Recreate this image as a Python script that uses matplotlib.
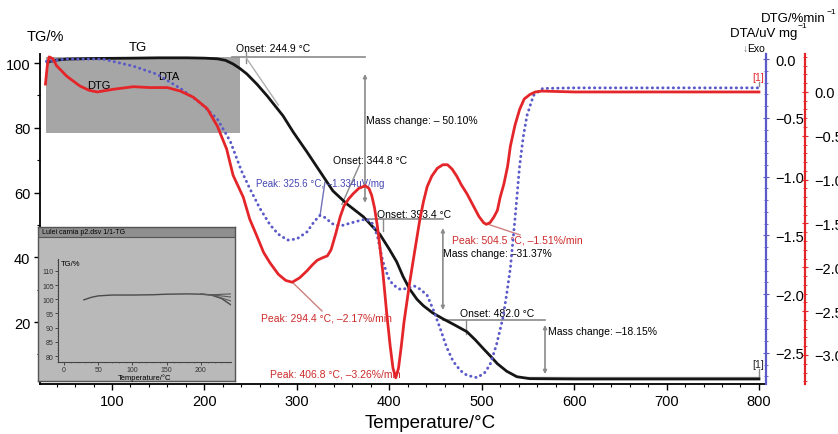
import numpy as np
import matplotlib
matplotlib.use('Agg')
import matplotlib.pyplot as plt
from matplotlib.patches import Rectangle
from matplotlib.ticker import MultipleLocator, FuncFormatter

plt.rcParams['font.family'] = ['Liberation Sans', 'DejaVu Sans']

# TG curve (temperature °C, mass %)
tg_t = [30, 40, 51, 80, 123, 150, 181, 200, 214, 223, 231, 238, 246, 257, 268, 285, 296, 311, 325,
        339, 354, 372, 390, 400, 408, 415, 422, 430, 437, 447, 458, 470, 484, 493, 502, 510, 517,
        527, 538, 552, 600, 700, 800]
tg_v = [100.3, 100.9, 101.2, 101.4, 101.5, 101.6, 101.6, 101.5, 101.3, 100.8, 99.7, 98.4, 96.6, 93.4,
        89.8, 83.7, 78.7, 72.5, 66.5, 60.5, 56.5, 52.5, 47.0, 42.5, 38.6, 34.0, 30.2, 27.0, 25.0, 22.8,
        21.0, 19.2, 17.0, 14.5, 11.7, 9.3, 7.1, 4.8, 3.1, 2.5, 2.4, 2.4, 2.4]

# DTA curve (uV/mg)
dta_t = [29, 50, 90, 123, 149, 174, 195, 214, 228, 240, 249, 260, 271, 280, 290, 300, 311, 319, 325,
         331, 338, 347, 356, 365, 375, 382, 387, 393, 399, 404, 412, 420, 427, 434, 441, 448, 455, 462,
         469, 477, 484, 495, 503, 509, 516, 523, 527, 531, 536, 541, 545, 549, 556, 566, 600, 700, 800]
dta_v = [-0.02, 0.0, 0.0, -0.06, -0.13, -0.25, -0.37, -0.51, -0.70, -0.95, -1.10, -1.27, -1.41, -1.49,
         -1.54, -1.53, -1.47, -1.38, -1.33, -1.35, -1.40, -1.42, -1.40, -1.38, -1.36, -1.40, -1.50, -1.72,
         -1.86, -1.92, -1.96, -1.95, -1.93, -1.96, -2.01, -2.14, -2.29, -2.45, -2.57, -2.65, -2.69, -2.71,
         -2.67, -2.60, -2.43, -2.20, -2.00, -1.78, -1.36, -0.91, -0.66, -0.48, -0.31, -0.25, -0.245,
         -0.245, -0.245]

# DTG curve (%/min)
dtg_t = [28, 30, 32, 36, 40, 51, 65, 75, 84, 101, 123, 141, 160, 174, 188, 203, 214, 224, 231, 242,
         249, 257, 264, 271, 280, 288, 295, 303, 311, 317, 322, 328, 333, 337, 342, 347, 351, 356, 361,
         367, 374, 378, 381, 384, 387, 390, 393, 397, 401, 404, 407, 410, 413, 416, 419, 422, 425, 429,
         433, 437, 441, 446, 452, 458, 463, 468, 473, 478, 484, 491, 497, 502, 505, 509, 513, 517, 520,
         524, 528, 531, 536, 541, 546, 552, 558, 565, 600, 700, 800]
dtg_v = [0.09, 0.30, 0.40, 0.38, 0.30, 0.18, 0.07, 0.02, 0.0, 0.03, 0.06, 0.05, 0.05, 0.01, -0.06,
         -0.19, -0.39, -0.65, -0.95, -1.20, -1.45, -1.65, -1.83, -1.95, -2.08, -2.15, -2.17, -2.12, -2.04,
         -1.97, -1.92, -1.89, -1.87, -1.80, -1.62, -1.42, -1.30, -1.22, -1.16, -1.10, -1.07, -1.10, -1.18,
         -1.32, -1.52, -1.78, -2.05, -2.50, -2.90, -3.15, -3.26, -3.15, -2.90, -2.62, -2.40, -2.18, -1.98,
         -1.72, -1.46, -1.25, -1.08, -0.96, -0.87, -0.83, -0.83, -0.88, -0.96, -1.06, -1.16, -1.30, -1.42,
         -1.49, -1.51, -1.49, -1.43, -1.35, -1.20, -1.05, -0.85, -0.62, -0.38, -0.20, -0.08, -0.03, 0.0,
         0.01, 0.0, 0.0, 0.0]

# inset TG curve (first run up to ~240 °C)
ins_t = [29, 40, 50, 70, 100, 130, 150, 180, 200, 215, 230, 244]
ins_v = [99.8, 100.7, 101.2, 101.5, 101.5, 101.6, 101.8, 101.9, 101.8, 101.5, 100.3, 98.0]
ins_branch_end = [101.9, 100.8, 99.4]

W, H = 838, 435
fig = plt.figure(figsize=(W / 100, H / 100), dpi=100)


def fbox(x0, y0, x1, y1):
    # pixel box -> figure fraction rect
    return [x0 / W, 1 - y1 / H, (x1 - x0) / W, (y1 - y0) / H]


blue = '#5a5ac8'
red = '#e4262a'
gray = '#8a8a8a'

ax = fig.add_axes(fbox(40, 55, 766, 385))
ax2 = ax.twinx()
ax3 = ax.twinx()

ax.set_xlim(22.1, 807.6)
ax.set_ylim(0.85, 102.78)
ax2.set_ylim(-2.764, 0.043)
ax3.set_ylim(-3.331, 0.433)

# grey highlight box
ax.add_patch(Rectangle((29, 78.4), 210, 23.5, facecolor='#a6a6a6', edgecolor='none', zorder=0))

ax.plot(tg_t, tg_v, color='#151515', lw=2, zorder=3)
ax2.plot(dta_t, dta_v, color=blue, lw=2.1, linestyle=(0, (0.1, 1.7)), dash_capstyle='round')
ax3.plot(dtg_t, dtg_v, color=red, lw=2)

# spines
for s in ['top', 'right']:
    ax.spines[s].set_visible(False)
for a in (ax2, ax3):
    for s in ['top', 'left', 'bottom']:
        a.spines[s].set_visible(False)
ax2.spines['right'].set_color(blue)
ax2.spines['right'].set_linewidth(1.6)
ax3.spines['right'].set_position(('axes', 1 + 39 / 726))
ax3.spines['right'].set_color(red)
ax3.spines['right'].set_linewidth(1.6)
ax.spines['left'].set_linewidth(1.3)
ax.spines['bottom'].set_linewidth(1.3)

fmt = FuncFormatter(lambda v, p: f'{v:.1f}'.replace('-', '\u2212'))
ax.xaxis.set_minor_locator(MultipleLocator(20))
ax.set_xticks([100, 200, 300, 400, 500, 600, 700, 800])
ax.set_yticks([20, 40, 60, 80, 100])
ax.yaxis.set_minor_locator(MultipleLocator(10))
ax.tick_params(axis='both', which='major', labelsize=10.5, length=4, width=1, direction='out', pad=3)
ax.tick_params(axis='both', which='minor', length=2, width=0.8, direction='out')

ax2.set_yticks([0.0, -0.5, -1.0, -1.5, -2.0, -2.5])
ax2.yaxis.set_minor_locator(MultipleLocator(0.1))
ax2.yaxis.set_major_formatter(fmt)
ax2.tick_params(axis='y', which='major', colors=blue, labelcolor='black', labelsize=10.5,
                length=5, direction='inout', pad=4)
ax2.tick_params(axis='y', which='minor', colors=blue, length=3, direction='inout')

ax3.set_yticks([0.0, -0.5, -1.0, -1.5, -2.0, -2.5, -3.0])
ax3.yaxis.set_minor_locator(MultipleLocator(0.1))
ax3.yaxis.set_major_formatter(fmt)
ax3.tick_params(axis='y', which='major', colors=red, labelcolor='black', labelsize=10.5,
                length=5, direction='inout', pad=4)
ax3.tick_params(axis='y', which='minor', colors=red, length=3, direction='inout')

# curve labels
ax.text(128, 104.9, 'TG', fontsize=9.5, ha='center', va='center', clip_on=False)
ax.text(86, 93.2, 'DTG', fontsize=8, ha='center', va='center')
ax.text(161, 96.0, 'DTA', fontsize=8, ha='center', va='center')

# onset 244.9
ax.plot([229.8, 373.7], [101.7, 101.7], color=gray, lw=1.2, zorder=2)
ax.plot([244.9, 244.9], [103.6, 100.0], color=gray, lw=1, clip_on=False, zorder=2)
ax.plot([244.9, 280], [101.7, 87.0], color='#b0b0b0', lw=1, zorder=2)
ax.text(274, 104.6, 'Onset: 244.9 °C', fontsize=7.5, ha='center', va='center', clip_on=False)

arrow = dict(arrowstyle='<|-|>', color=gray, lw=1.2, mutation_scale=5, shrinkA=0, shrinkB=0)
ax.annotate('', xy=(373.7, 96.6), xytext=(373.7, 56.8), arrowprops=arrow)
ax.text(374.5, 82.4, 'Mass change: \u2013 50.10%', fontsize=7.5, ha='left', va='center')

# onset 344.8
ax.plot([368.3, 348.8], [68.8, 56.4], color=gray, lw=1)
ax.text(379, 70.0, 'Onset: 344.8 °C', fontsize=7.5, ha='center', va='center')

# DTA peak
ax.plot([330.4, 325], [63.2, 52.7], color='#7070b8', lw=1)
ax.text(255.8, 62.9, 'Peak: 325.6 °C, \u20131.334uV/mg', fontsize=7, color='#4646b4',
        ha='left', va='center')

# onset 393.4
ax.plot([373.7, 458], [51.8, 51.8], color=gray, lw=1.2)
ax.plot([393.4, 393.4], [51.8, 48.1], color=gray, lw=1)
ax.text(386.7, 53.4, 'Onset: 393.4 °C', fontsize=7.5, ha='left', va='center')
ax.annotate('', xy=(458, 49.0), xytext=(458, 23.7), arrowprops=arrow)
ax.text(458, 41.3, 'Mass change: \u201331.37%', fontsize=7.5, ha='left', va='center')

# DTG peak 504.5
ax.plot([505.7, 541.4], [50.3, 46.9], color='#d08080', lw=1)
ax.text(467.8, 45.6, 'Peak: 504.5 °C, \u20131.51%/min', fontsize=7.5, color='#cc2a2a',
        ha='left', va='center')

# onset 482.0
ax.plot([458, 568.5], [20.6, 20.6], color=gray, lw=1.2)
ax.plot([483, 483], [20.6, 16.3], color=gray, lw=1)
ax.text(476.5, 22.8, 'Onset: 482.0 °C', fontsize=7.5, ha='left', va='center')
ax.annotate('', xy=(568.5, 19.1), xytext=(568.5, 3.9), arrowprops=arrow)
ax.text(571.7, 17.2, 'Mass change: \u201318.15%', fontsize=7.5, ha='left', va='center')
ax.plot([547, 800], [3.0, 3.0], color='#a8a8a8', lw=1, zorder=2)

# DTG peaks 294.4 / 406.8
ax.plot([294.7, 327.2], [32.4, 23.4], color='#d08080', lw=1)
ax.text(261.2, 21.5, 'Peak: 294.4 °C, \u20132.17%/min', fontsize=7.5, color='#cc2a2a',
        ha='left', va='center')
ax.text(271, 4.2, 'Peak: 406.8 °C, \u20133.26%/min', fontsize=7.5, color='#cc2a2a',
        ha='left', va='center')

ax.text(799, 95.7, '[1]', fontsize=7.5, color=red, ha='center', va='center')
ax.plot([800, 800], [94.2, 92.8], color=gray, lw=1)
ax.text(799, 7.0, '[1]', fontsize=7.5, color='#222222', ha='center', va='center')
ax.plot([800, 800], [5.4, 3.0], color=gray, lw=1)

# axis titles
fig.text(27 / W, 1 - 37 / H, 'TG/%', fontsize=10.5, ha='left', va='center')
fig.text(826 / W, 1 - 19 / H, 'DTG/%min', fontsize=9.5, ha='right', va='center')
fig.text(827 / W, 1 - 12 / H, '\u22121', fontsize=6, ha='left', va='center')
fig.text(797 / W, 1 - 34 / H, 'DTA/uV mg', fontsize=9.5, ha='right', va='center')
fig.text(798 / W, 1 - 27 / H, '\u22121', fontsize=6, ha='left', va='center')
fig.text(748 / W, 1 - 49 / H, '\u2193', fontsize=7.5, color='#777777', ha='right', va='center')
fig.text(765 / W, 1 - 49 / H, 'Exo', fontsize=7.5, ha='right', va='center')
fig.text(430 / W, 1 - 424 / H, 'Temperature/°C', fontsize=13.5, ha='center', va='center')

# inset window
frame = fig.add_axes(fbox(38, 228, 235, 382))
frame.set_facecolor('#b9b9b9')
frame.set_xticks([])
frame.set_yticks([])
for s in frame.spines.values():
    s.set_color('#555555')
    s.set_linewidth(1)
frame.set_xlim(0, 1)
frame.set_ylim(0, 1)
frame.add_patch(Rectangle((0, 1 - 10 / 154), 1, 10 / 154, facecolor='#8f8f8f', edgecolor='#555555', lw=0.8))
frame.text(0.02, 1 - 5 / 154, 'Lulei carnia p2.dsv 1/1-TG', fontsize=5, ha='left', va='center')

inset = fig.add_axes(fbox(58, 260, 231, 363))
inset.patch.set_alpha(0)
inset.set_xlim(-8.8, 244)
inset.set_ylim(77.9, 114.2)
for s in ['top', 'right']:
    inset.spines[s].set_visible(False)
inset.spines['left'].set_color('#444444')
inset.spines['bottom'].set_color('#444444')
inset.set_xticks([0, 50, 100, 150, 200])
inset.set_yticks([80, 85, 90, 95, 100, 105, 110])
inset.xaxis.set_minor_locator(MultipleLocator(10))
inset.yaxis.set_minor_locator(MultipleLocator(1))
inset.tick_params(which='major', labelsize=5, length=2, width=0.6, pad=1, colors='#333333')
inset.tick_params(which='minor', length=1, width=0.4, colors='#555555')
inset.plot(ins_t, ins_v, color='#4a4a4a', lw=1)
for end in ins_branch_end:
    inset.plot([200, 215, 244], [101.8, 101.6, end], color='#5a5a5a', lw=0.8)
inset.text(-4, 112.5, 'TG/%', fontsize=5.5, ha='left', va='center')
inset.set_xlabel('Temperature/°C', fontsize=5.5, labelpad=0)

fig.savefig('out.png', dpi=100)
